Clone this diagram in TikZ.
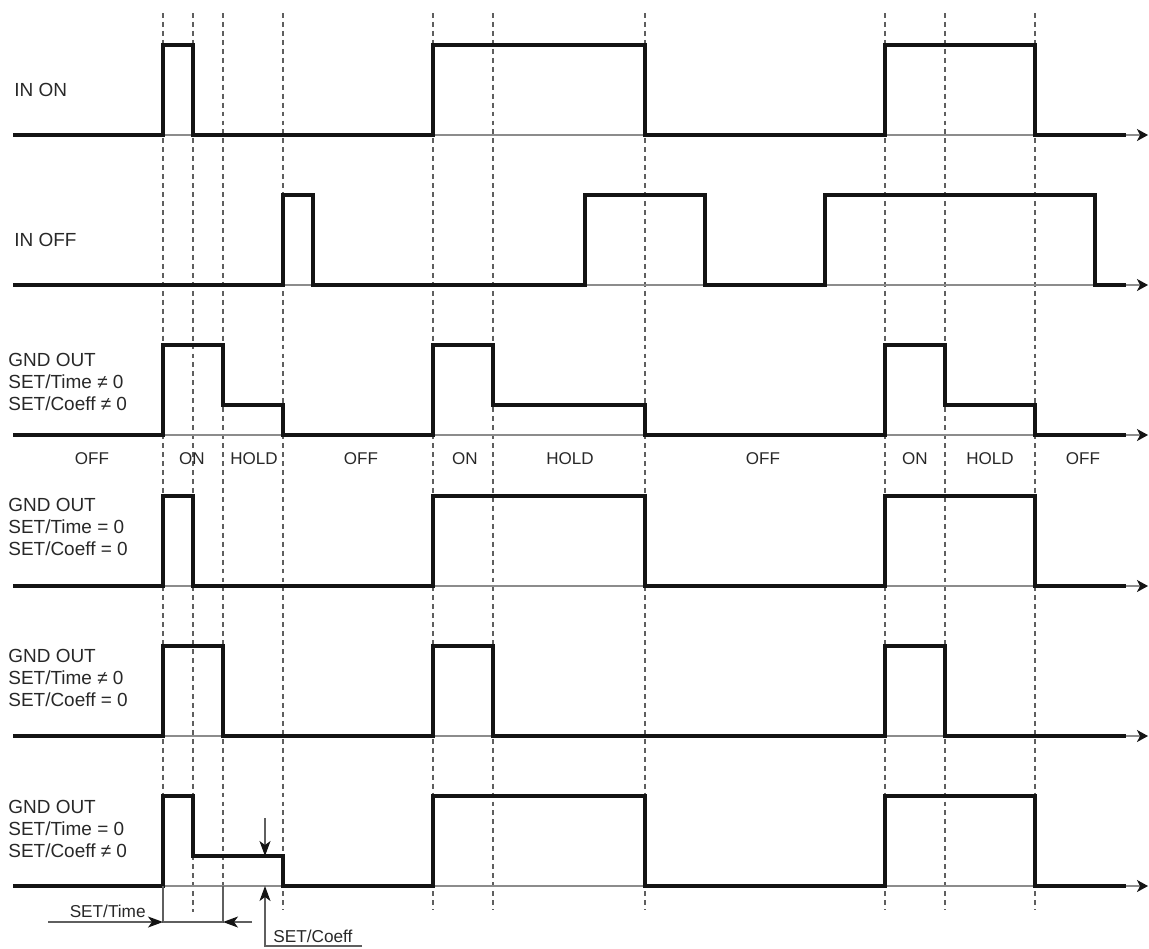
\documentclass[tikz,border=0pt]{standalone}
\usepackage{fontspec}
\setmainfont{Liberation Sans}
\usetikzlibrary{arrows.meta,positioning}
\definecolor{ink}{RGB}{20,20,20}
\definecolor{txt}{RGB}{40,40,40}
\definecolor{gray40}{RGB}{95,95,95}
\definecolor{gray55}{RGB}{140,140,140}
\tikzset{
  sig/.style={line width=2.1pt, draw=ink, line join=miter},
  axis/.style={line width=0.7pt, draw=gray55,
               -{Stealth[length=2.2mm, width=2.4mm, inset=0.6mm, color=ink]}},
  guide/.style={line width=0.7pt, draw=gray40, dash pattern=on 2.8pt off 2.3pt},
  dimline/.style={line width=0.7pt, draw=gray40},
  dimarr/.style={line width=0.7pt, draw=gray40,
                 -{Stealth[length=3mm, width=2.2mm, inset=0.8mm, color=ink]}},
  lbl/.style={anchor=west, inner sep=0pt, align=left, text=txt,
              font=\fontsize{10.8}{12.3}\selectfont},
  state/.style={inner sep=0pt, text=txt, font=\fontsize{9.7}{11}\selectfont},
  dimlbl/.style={inner sep=0pt, text=txt, font=\fontsize{9.8}{11}\selectfont},
}

\begin{document}
\begin{tikzpicture}[x=0.02cm, y=-0.02cm]
  \useasboundingbox (0,0) rectangle (1149,948);

  % time marks
  \draw[guide] (163,13) -- (163,886) (193,13) -- (193,912) (223,13) -- (223,886)
               (283,13) -- (283,910) (433,13) -- (433,910) (493,13) -- (493,910)
               (645,13) -- (645,910) (885,13) -- (885,910) (945,13) -- (945,910)
               (1035,13) -- (1035,910);

  % time axes
  \coordinate (a1) at (13,135);  \coordinate (e1) at (1148,135);
  \coordinate (a2) at (13,285);  \coordinate (e2) at (1148,285);
  \coordinate (a3) at (13,435);  \coordinate (e3) at (1148,435);
  \coordinate (a4) at (13,586);  \coordinate (e4) at (1148,586);
  \coordinate (a5) at (13,736);  \coordinate (e5) at (1148,736);
  \coordinate (a6) at (13,886);  \coordinate (e6) at (1148,886);
  \draw[axis] (a1) -- (e1);
  \draw[axis] (a2) -- (e2);
  \draw[axis] (a3) -- (e3);
  \draw[axis] (a4) -- (e4);
  \draw[axis] (a5) -- (e5);
  \draw[axis] (a6) -- (e6);

  % waveforms
  \draw[sig] (a1) -| (163,45) -| (193,135) -| (433,45) -| (645,135)
             -| (885,45) -| (1035,135) -- (1126,135);
  \draw[sig] (a2) -| (283,195) -| (313,285) -| (585,195) -| (705,285)
             -| (825,195) -| (1095,285) -- (1126,285);
  \draw[sig] (a3) -| (163,345) -| (223,405) -| (283,435) -| (433,345) -| (493,405)
             -| (645,435) -| (885,345) -| (945,405) -| (1035,435) -- (1126,435);
  \draw[sig] (a4) -| (163,496) -| (193,586) -| (433,496) -| (645,586)
             -| (885,496) -| (1035,586) -- (1126,586);
  \draw[sig] (a5) -| (163,646) -| (223,736) -| (433,646) -| (493,736)
             -| (885,646) -| (945,736) -- (1126,736);
  \draw[sig] (a6) -| (163,796) -| (193,856) -| (283,886) -| (433,796) -| (645,886)
             -| (885,796) -| (1035,886) -- (1126,886);

  % channel labels
  \node[lbl] (inon) at (14,90) {IN ON};
  \node[lbl] (inoff) at (14,240) {IN OFF};
  \node[lbl] (gnd1) at (8,382) {GND OUT\\SET/Time ≠ 0\\SET/Coeff ≠ 0};
  \node[lbl] (gnd2) at (8,527) {GND OUT\\SET/Time = 0\\SET/Coeff = 0};
  \node[lbl] (gnd3) at (8,678) {GND OUT\\SET/Time ≠ 0\\SET/Coeff = 0};
  \node[lbl] (gnd4) at (8,829) {GND OUT\\SET/Time = 0\\SET/Coeff ≠ 0};

  % states
  \node[state] (off1) at (92,459) {OFF};
  \node[state] (on1) at (192,459) {ON};
  \node[state] (hold1) at (254,459) {HOLD};
  \node[state] (off2) at (361,459) {OFF};
  \node[state] (on2) at (465,459) {ON};
  \node[state] (hold2) at (570,459) {HOLD};
  \node[state] (off3) at (763,459) {OFF};
  \node[state] (on3) at (915,459) {ON};
  \node[state] (hold3) at (990,459) {HOLD};
  \node[state] (off4) at (1083,459) {OFF};

  % SET/Time
  \coordinate (t0) at (163,922);
  \coordinate (t1) at (223,922);
  \coordinate (tin) at (48,922);
  \coordinate (tout) at (252,922);
  \draw[dimline] (163,886) -- (t0) -- (t1) -- (223,886);
  \draw[dimarr] (tin) -- (t0);
  \draw[dimarr] (tout) -- (t1);
  \node[dimlbl, anchor=base east] (settime) at (146,917) {SET/Time};

  % SET/Coeff
  \coordinate (c0) at (265,856);
  \coordinate (c1) at (265,886);
  \coordinate (cin) at (265,818);
  \coordinate (cout) at (362,946);
  \draw[dimarr] (cin) -- (c0);
  \draw[dimarr] (cout) -- (265,946) -- (c1);
  \node[dimlbl, anchor=base west] (setcoeff) at (273,942) {SET/Coeff};
\end{tikzpicture}
\end{document}
